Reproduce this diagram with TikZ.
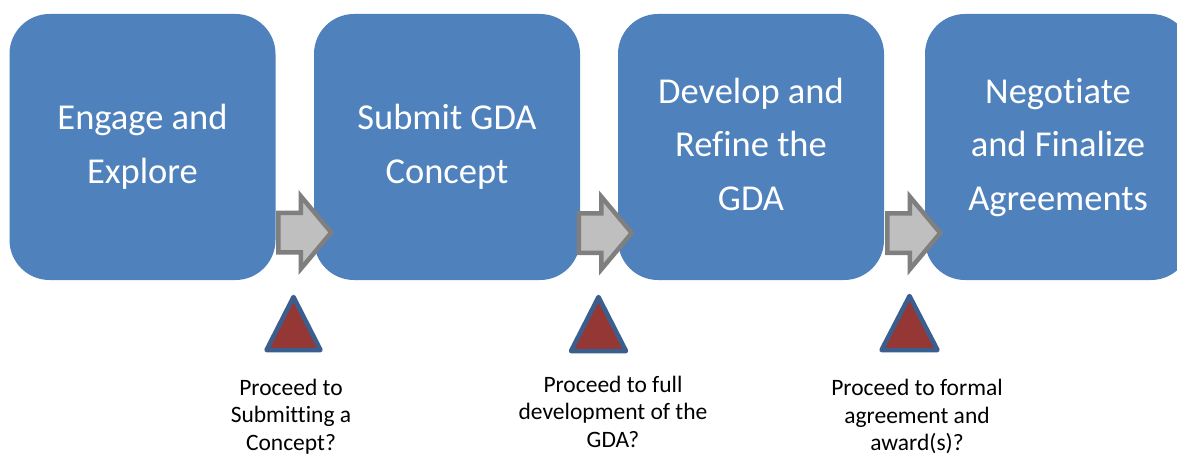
\documentclass[tikz,border=0pt]{standalone}
\usepackage{fontspec}
\setmainfont{Carlito}[RawFeature={-liga;-clig;-calt;-dlig;-rlig}]
\usetikzlibrary{shapes.arrows}
\definecolor{boxblue}{HTML}{4F81BD}
\definecolor{arrfill}{HTML}{BFBFBF}
\definecolor{arrline}{HTML}{7F7F7F}
\definecolor{trifill}{HTML}{953735}
\definecolor{triline}{HTML}{3A5F8E}
\tikzset{
  stage/.style={fill=boxblue, rounded corners=40pt, minimum width=266pt, minimum height=266pt, inner sep=0pt},
  stagetext/.style={text=white, align=center, font=\fontsize{36.5}{53}\selectfont, inner sep=0pt, anchor=base},
  flowarrow/.style={single arrow, fill=arrfill, draw=arrline, line width=4.5pt, minimum height=53pt, inner xsep=0pt, inner ysep=17.5pt, single arrow head extend=16.5pt, single arrow tip angle=100, anchor=center},
  gate/.style={fill=trifill, draw=triline, line width=4.5pt, line join=round},
  question/.style={align=center, font=\fontsize{23.5}{27.5}\selectfont, inner sep=0pt, anchor=base, text=black}
}
\begin{document}
\begin{tikzpicture}[x=1pt, y=-1pt]
\useasboundingbox (0,0) rectangle (1177,457);
\clip (0,0) rectangle (1177,457);
\fill[white] (0,0) rectangle (1177,457);
% stages
\node[stage] (s1) at (142.5,147) {};
\node[stage] (s2) at (447,147) {};
\node[stage] (s3) at (751,147) {};
\node[stage] (s4) at (1058,147) {};
\node[stagetext] (t1) at (142.5,183) {Engage and\\Explore};
\node[stagetext] (t2) at (447,183) {Submit GDA\\Concept};
\node[stagetext] (t3) at (751,210) {Develop and\\Refine the\\GDA};
\node[stagetext] (t4) at (1058,210) {Negotiate\\and Finalize\\Agreements};
% arrows
\node[flowarrow] (a1) at (296.5,232.5) {};
\node[flowarrow] (a2) at (597,233) {};
\node[flowarrow] (a3) at (905.5,233) {};
% decision triangles
\draw[gate] (293.5,297) -- (320.5,350) -- (266.5,350) -- cycle;
\draw[gate] (598.5,297) -- (626,351) -- (571,351) -- cycle;
\draw[gate] (909.5,296) -- (937.5,350) -- (881.5,350) -- cycle;
% questions
\node[question] (q1) at (291,450) {Proceed to\\Submitting a\\Concept?};
\node[question] (q2) at (613,447) {Proceed to full\\development of the\\GDA?};
\node[question] (q3) at (917,450.5) {Proceed to formal\\agreement and\\award(s)?};
\end{tikzpicture}
\end{document}
